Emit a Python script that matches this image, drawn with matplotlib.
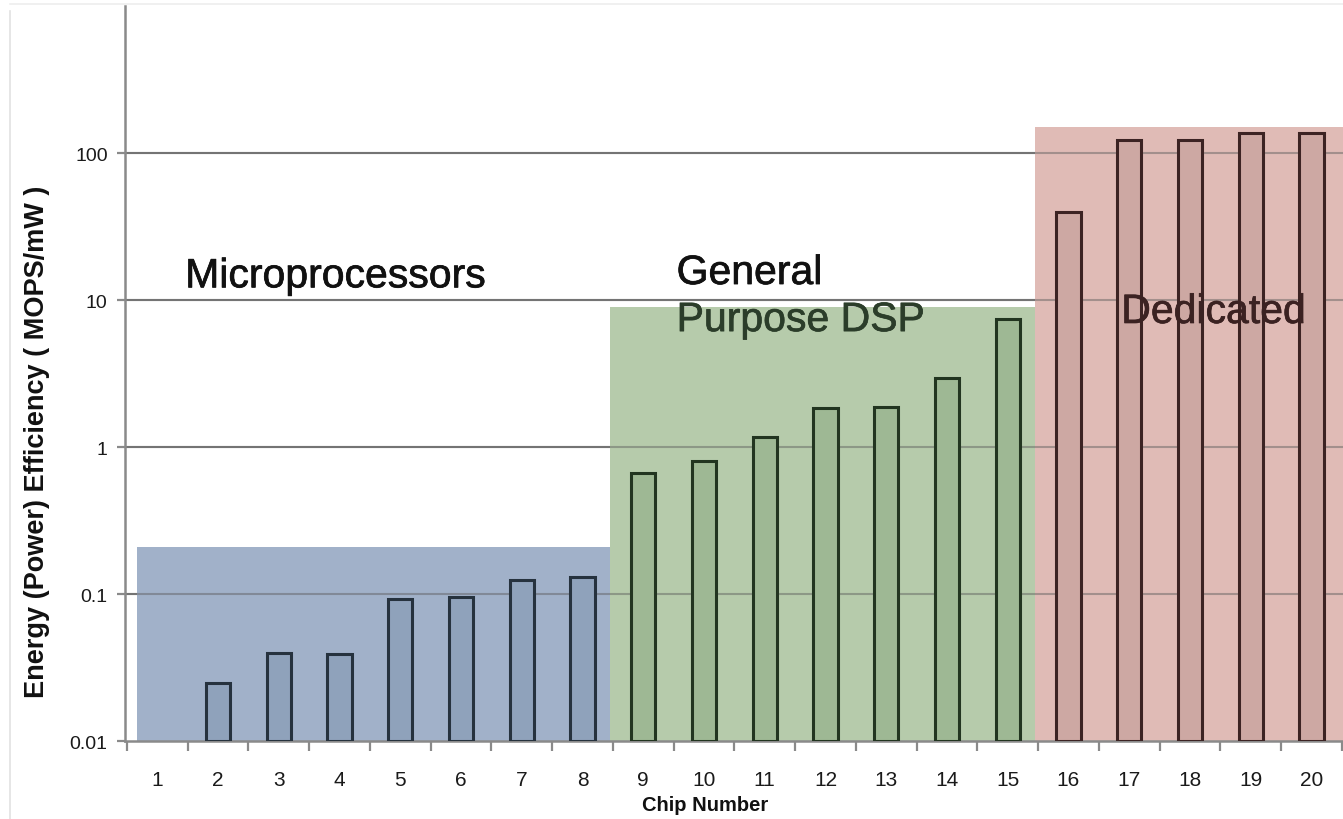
import matplotlib.pyplot as plt
import matplotlib.patheffects as pe
from matplotlib.lines import Line2D
import numpy as np

plt.rcParams['font.family'] = ['Liberation Sans', 'DejaVu Sans']

# chip numbers and efficiency (MOPS/mW), chip 1 has no bar
chips = list(range(1, 21))
efficiency = [np.nan, 0.025, 0.040, 0.039, 0.093, 0.095, 0.124, 0.13,
              0.67, 0.80, 1.17, 1.84, 1.87, 2.95, 7.4,
              40, 122, 122, 137, 137]
group_of_chip = ['mp'] * 8 + ['dsp'] * 7 + ['ded'] * 5

# shaded groups: left / right edge (chip units) and box top value
groups = ['mp', 'dsp', 'ded']
group_left = [0.67, 8.45, 15.45]
group_right = [8.45, 15.45, 20.6]
group_top = [0.21, 9.0, 150]
group_fill = {'mp': '#a1b1c9', 'dsp': '#b6cbab', 'ded': '#e0bbb6'}
bar_fill = {'mp': '#8fa2bb', 'dsp': '#9eb894', 'ded': '#cda8a3'}
bar_edge = {'mp': '#26323e', 'dsp': '#223520', 'ded': '#3c2323'}

yticks = [0.01, 0.1, 1, 10, 100]
ytick_labels = ['0.01', '0.1', '1', '10', '100']

fig = plt.figure(figsize=(13.43, 8.2), dpi=100)
ax = fig.add_axes([0.0931, 0.0951, 0.9069, 0.8963])
ax.set_yscale('log')
ax.set_ylim(0.01, 1000)
ax.set_xlim(0.47, 20.52)

# faint outer frame
fig.add_artist(Line2D([10 / 1343, 10 / 1343], [0, 1 - 12 / 820], color='#e2e2e2', lw=1.2))
fig.add_artist(Line2D([10 / 1343, 1], [1 - 5 / 820, 1 - 5 / 820], color='#eeeeee', lw=1.2))

for t in yticks[1:]:
    ax.axhline(t, color='#8a8a8a', lw=1.5, zorder=1)
    ax.axhline(t, color='#5a5a5a', lw=1.5, alpha=0.45, zorder=2.5)

for g, l, r, top in zip(groups, group_left, group_right, group_top):
    ax.bar((l + r) / 2, top - 0.01, width=r - l, bottom=0.01,
           color=group_fill[g], zorder=2, linewidth=0)

for c, v, g in zip(chips, efficiency, group_of_chip):
    if np.isnan(v):
        continue
    ax.bar(c, v - 0.01, width=0.4, bottom=0.01, color=bar_fill[g],
           edgecolor=bar_edge[g], linewidth=2.2, zorder=3)

ax.set_yticks(yticks)
ax.set_yticklabels(ytick_labels)
ax.yaxis.set_minor_locator(plt.NullLocator())
ax.set_xticks(chips)
ax.set_xticklabels([str(c) for c in chips])
ax.set_xticks(np.arange(0.5, 21, 1), minor=True)
ax.tick_params(axis='x', which='major', length=0, labelsize=15, pad=21, labelcolor='#1a1a1a')
ax.tick_params(axis='x', which='minor', length=7, width=1.6, color='#8a8a8a')
ax.tick_params(axis='y', length=5.5, width=1.6, color='#8a8a8a', labelsize=14, pad=7,
               labelcolor='#1a1a1a')

for s in ['top', 'right']:
    ax.spines[s].set_visible(False)
for s in ['left', 'bottom']:
    ax.spines[s].set_color('#8a8a8a')
    ax.spines[s].set_linewidth(1.8)

ax.set_ylabel('Energy (Power) Efficiency ( MOPS/mW )', fontsize=19.5, fontweight='bold',
              color='#111111')
ax.yaxis.set_label_coords(-0.0616, 0.408)
ax.set_xlabel('Chip Number', fontsize=14.5, fontweight='bold', color='#111111')
ax.xaxis.set_label_coords(0.476, -0.073)

labels = [(1.46, 12.2, 'Microprocessors', '#111111'),
          (9.55, 12.85, 'General', '#111111'),
          (9.55, 6.15, 'Purpose DSP', '#2b3d2a'),
          (16.87, 6.98, 'Dedicated', '#3b2222')]
for x, y, s, col in labels:
    ax.text(x, y, s, fontsize=29.5, color=col, zorder=5, va='baseline',
            path_effects=[pe.withStroke(linewidth=0.5, foreground=col)])

fig.savefig('out.png', dpi=100)
